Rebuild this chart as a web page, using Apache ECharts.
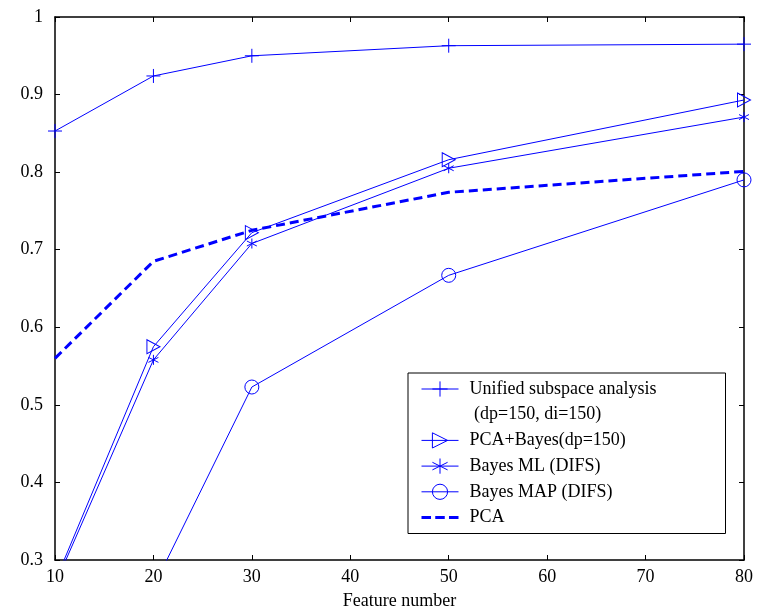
<!DOCTYPE html>
<html>
<head>
<meta charset="utf-8">
<script src="https://cdn.jsdelivr.net/npm/echarts@6/dist/echarts.min.js"></script>
<style>html,body{margin:0;padding:0;background:#fff}#c{width:758px;height:615px}</style>
</head>
<body>
<div id="c"></div>
<script>
const featureNumbers = [10, 20, 30, 50, 80];
const unified = [0.853, 0.924, 0.950, 0.963, 0.965];
const pcaBayes = [0.272, 0.575, 0.722, 0.816, 0.893];
const bayesML = [0.268, 0.558, 0.708, 0.805, 0.871];
const bayesMAP = [null, 0.265, 0.523, 0.667, 0.790];
const pca = [0.560, 0.685, 0.725, 0.774, 0.801];
const xTicks = [10, 20, 30, 40, 50, 60, 70, 80];
const yTicks = [0.3, 0.4, 0.5, 0.6, 0.7, 0.8, 0.9, 1];

const names = ['Unified subspace analysis', ' (dp=150, di=150)', 'PCA+Bayes(dp=150)', 'Bayes ML (DIFS)', 'Bayes MAP (DIFS)', 'PCA'];
const BLUE = '#0000ff';
const FONT = 'Liberation Serif';

function pairs(arr) { return featureNumbers.map((x, i) => [x, arr[i]]); }

const mk = (name, data, symbol, size) => ({
  name, type: 'line', data: pairs(data), symbol, symbolSize: size,
  showSymbol: true, clip: true,
  lineStyle: { color: BLUE, width: 1 },
  itemStyle: { color: 'rgba(0,0,0,0)', borderColor: BLUE, borderWidth: 1 },
  emphasis: { disabled: true }, animation: false
});

const chart = echarts.init(document.getElementById('c'));
chart.setOption({
  animation: false,
  grid: { left: 55, right: 14, top: 17, bottom: 55 },
  xAxis: [{
    type: 'value', min: xTicks[0], max: xTicks[xTicks.length - 1], interval: 10,
    name: 'Feature number', nameLocation: 'middle', nameGap: 32,
    nameTextStyle: { fontFamily: FONT, fontSize: 18, color: '#000' },
    axisLine: { lineStyle: { color: '#000', width: 1.5 } },
    axisTick: { inside: true, length: 5, lineStyle: { color: '#000' } },
    axisLabel: { fontFamily: FONT, fontSize: 18, color: '#000', margin: 8 },
    splitLine: { show: false }
  }, {
    type: 'value', min: xTicks[0], max: xTicks[xTicks.length - 1], interval: 10, position: 'top',
    axisLine: { lineStyle: { color: '#000', width: 1.5 } },
    axisTick: { inside: true, length: 5, lineStyle: { color: '#000' } },
    axisLabel: { show: false }, splitLine: { show: false }
  }],
  yAxis: [{
    type: 'value', min: yTicks[0], max: yTicks[yTicks.length - 1], interval: 0.1,
    axisLine: { show: true, lineStyle: { color: '#000', width: 1.5 } },
    axisTick: { show: true, inside: true, length: 5, lineStyle: { color: '#000' } },
    axisLabel: { fontFamily: FONT, fontSize: 18, color: '#000', margin: 12,
      formatter: v => (Math.abs(v - 1) < 1e-9 ? '1' : v.toFixed(1)) },
    splitLine: { show: false }
  }, {
    type: 'value', min: yTicks[0], max: yTicks[yTicks.length - 1], interval: 0.1, position: 'right',
    axisLine: { show: true, lineStyle: { color: '#000', width: 1.5 } },
    axisTick: { show: true, inside: true, length: 5, lineStyle: { color: '#000' } },
    axisLabel: { show: false }, splitLine: { show: false }
  }],
  legend: {
    orient: 'vertical', left: 408, top: 373,
    backgroundColor: '#fff', borderColor: '#000', borderWidth: 1,
    padding: [6, 14, 6, 13], itemGap: 5.7, itemWidth: 37, itemHeight: 19,
    lineStyle: { width: 1 },
    itemStyle: { borderWidth: 1 },
    textStyle: { fontFamily: FONT, fontSize: 18, color: '#000', lineHeight: 20,
      width: 242, padding: [0, 0, 0, 6] },
    data: [
      { name: names[0] },
      { name: names[1] },
      { name: names[2] },
      { name: names[3] },
      { name: names[4] },
      { name: names[5], icon: 'path://M0,0 H9 V3 H0 Z M13,0 H22 V3 H13 Z M26,0 H35 V3 H26 Z', itemStyle: { color: BLUE, borderWidth: 0 } }
    ]
  },
  series: [
    mk(names[0], unified, 'path://M0,-1 L0,1 M-1,0 L1,0', 14),
    {
      name: names[1], type: 'line', data: [], symbol: 'none',
      lineStyle: { opacity: 0 }, itemStyle: { opacity: 0 }
    },
    mk(names[2], pcaBayes, 'path://M0,0 L2,1 L0,2 Z', [13, 14]),
    mk(names[3], bayesML, 'path://M0,-1 L0,1 M-0.87,-0.5 L0.87,0.5 M-0.87,0.5 L0.87,-0.5', 10),
    mk(names[4], bayesMAP, 'circle', 14),
    {
      name: names[5], type: 'line', data: pairs(pca), symbol: 'none', clip: true,
      lineStyle: { color: BLUE, width: 3, type: [9, 5] },
      itemStyle: { color: BLUE },
      emphasis: { disabled: true }, animation: false
    }
  ]
});
</script>
</body>
</html>
